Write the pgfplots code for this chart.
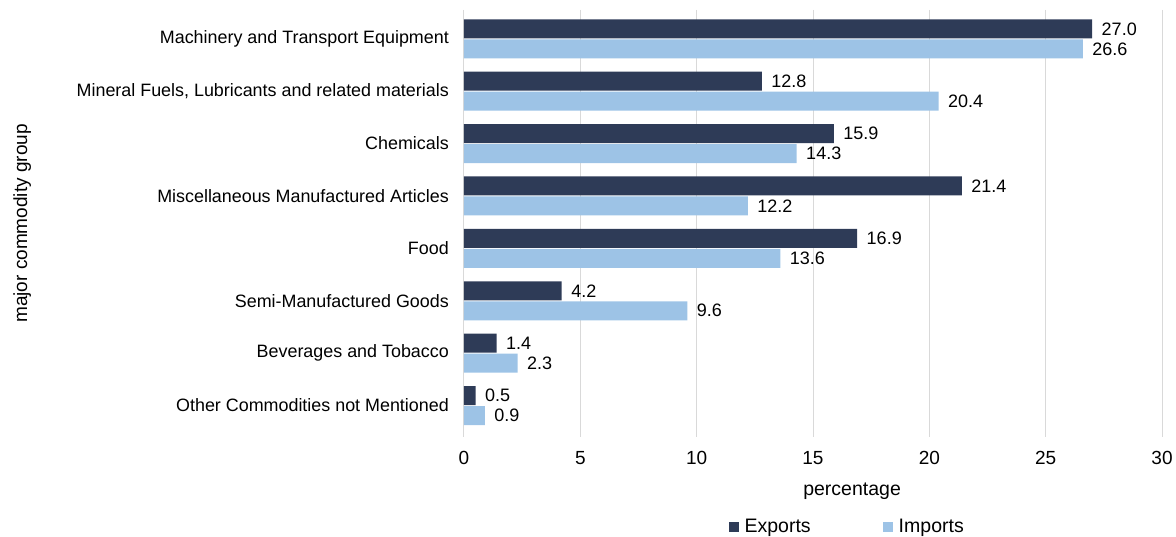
\documentclass[border=0pt]{standalone}
\usepackage{fontspec}
\setmainfont{Liberation Sans}
\usepackage{pgfplots}
\pgfplotsset{compat=1.18}
\definecolor{expcol}{HTML}{2E3B57}
\definecolor{impcol}{HTML}{9DC3E6}
\definecolor{gridcol}{HTML}{D9D9D9}
\begin{document}
\begin{tikzpicture}[x=1pt,y=1pt]
\useasboundingbox (0,0) rectangle (1176,537);
\begin{axis}[
    at={(464pt,100pt)}, anchor=south west,
    scale only axis,
    width=698pt, height=427pt,
    xbar=0pt, bar width=19pt,
    xmin=0, xmax=30, xtick={0,5,...,30},
    ymin=-0.55, ymax=7.6, y dir=reverse,
    ytick={0,...,7},
    yticklabels={Machinery and Transport Equipment,
        {Mineral Fuels, Lubricants and related materials},
        Chemicals, Miscellaneous Manufactured Articles, Food,
        Semi-Manufactured Goods, Beverages and Tobacco,
        Other Commodities not Mentioned},
    axis line style={draw=none},
    major tick length=0pt,
    xmajorgrids, grid style={draw=gridcol, line width=1pt},
    /pgf/number format/assume math mode=true,
    xticklabel style={font=\fontsize{19}{22}\selectfont, anchor=base, yshift=-27pt},
    yticklabel style={font=\fontsize{17.9}{20}\selectfont, anchor=east, inner sep=0pt, xshift=-15pt},
    xlabel={percentage},
    xlabel style={font=\fontsize{19.5}{22}\selectfont, at={(axis description cs:0.556,-0.136)}, anchor=base},
    ylabel={major commodity group},
    ylabel style={font=\fontsize{19}{22}\selectfont, at={(axis description cs:-0.633,0.5)}, anchor=center},
    nodes near coords,
    nodes near coords style={font=\fontsize{18}{20}\selectfont, anchor=west, xshift=6pt,
        /pgf/number format/.cd, fixed, zerofill, precision=1, assume math mode=true},
    legend columns=2,
    legend style={draw=none, at={(axis description cs:0.549,-0.21)}, anchor=center,
        font=\fontsize{19.5}{22}\selectfont,
        /tikz/every even column/.append style={column sep=70pt}},
    legend image code/.code={\fill[#1] (0pt,-5pt) rectangle (10pt,5pt); \path (14pt,0pt);},
]
\addplot[fill=expcol, draw=none, bar shift=10pt] coordinates {
    (27.0,0) (12.8,1) (15.9,2) (21.4,3) (16.9,4) (4.2,5) (1.4,6) (0.5,7)
};
\addplot[fill=impcol, draw=none, bar shift=-10pt] coordinates {
    (26.6,0) (20.4,1) (14.3,2) (12.2,3) (13.6,4) (9.6,5) (2.3,6) (0.9,7)
};
\legend{Exports, Imports}
\end{axis}
\end{tikzpicture}
\end{document}
